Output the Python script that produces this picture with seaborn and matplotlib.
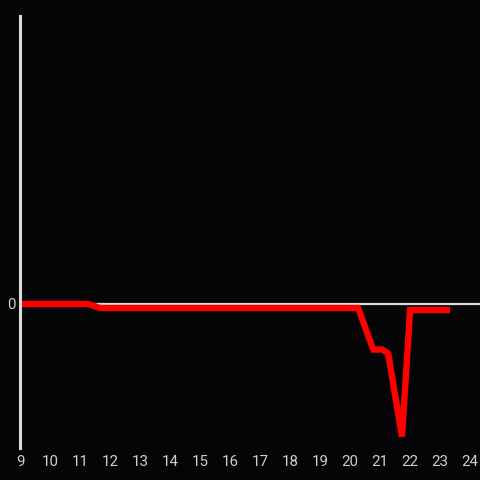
import pandas as pd
import numpy as np
import seaborn as sns
import matplotlib.pyplot as plt

hours = [9.0, 11.27, 11.67, 20.27, 20.77, 21.07, 21.27, 21.73, 22.0, 23.33]
values = [0.0, 0.0, -0.03, -0.03, -0.34, -0.34, -0.37, -0.99, -0.045, -0.045]
xticks = list(range(9, 25))

df = pd.DataFrame({"hour": hours, "value": values})

sns.set_style("dark")
plt.rcParams['font.family'] = ['Roboto', 'DejaVu Sans']

fig = plt.figure(figsize=(4.8, 4.8), dpi=100)
fig.patch.set_facecolor("#050407")
ax = fig.add_axes([0.0417, 0.0667, 0.9583, 0.9])
ax.set_facecolor("#050407")

ax.axhline(0, color="#dcdcdc", linewidth=1.6, zorder=1)
sns.lineplot(data=df, x="hour", y="value", color="#ff0000", linewidth=4.6,
             solid_joinstyle="miter", solid_capstyle="butt", ax=ax, zorder=2)

ax.set_xlim(9, 24.33)
ax.set_ylim(-1.075, 2.15)
ax.set_xticks(xticks)
ax.set_yticks([0])
ax.tick_params(colors="#cfcfcf", labelsize=10.8, length=0, pad=5)
ax.tick_params(axis="y", pad=3)
ax.set_xlabel("")
ax.set_ylabel("")
ax.grid(False)
for side in ["top", "right", "bottom"]:
    ax.spines[side].set_visible(False)
ax.spines["left"].set_color("#dcdcdc")
ax.spines["left"].set_linewidth(2.2)

fig.savefig("out.png", dpi=100, facecolor=fig.get_facecolor())
